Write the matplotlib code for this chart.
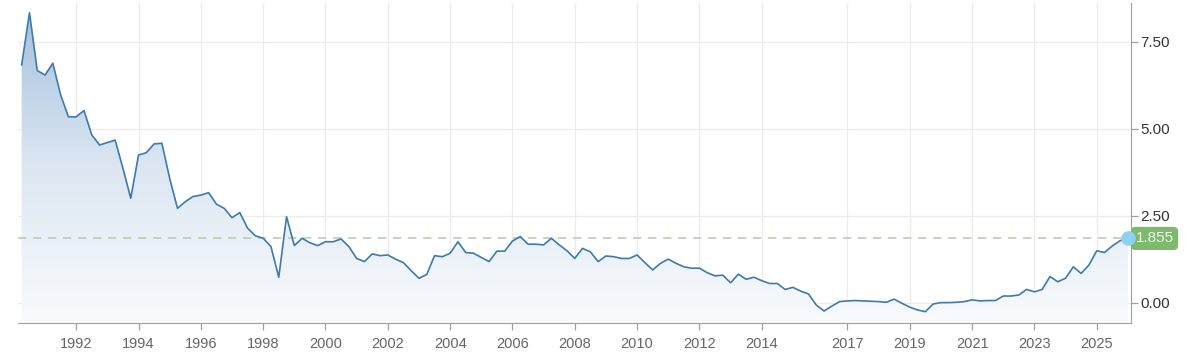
import numpy as np
import matplotlib
matplotlib.use('Agg')
import matplotlib.pyplot as plt
from matplotlib.colors import LinearSegmentedColormap
from matplotlib.patches import Polygon
import matplotlib.transforms as mtransforms

plt.rcParams['font.family'] = ['Liberation Sans', 'DejaVu Sans']

# =============================================================================
#  Data (quarterly points)
# =============================================================================

values = [
    6.84, 8.34, 6.68, 6.55, 6.89, 5.98, 5.35, 5.35, 5.53, 4.83,
    4.54, 4.61, 4.68, 3.87, 3.01, 4.25, 4.32, 4.57, 4.59, 3.58,
    2.72, 2.91, 3.06, 3.10, 3.17, 2.84, 2.72, 2.45, 2.60, 2.15,
    1.93, 1.86, 1.62, 0.74, 2.48, 1.65, 1.86, 1.73, 1.65, 1.76,
    1.76, 1.84, 1.62, 1.28, 1.19, 1.41, 1.36, 1.38, 1.26, 1.16,
    0.93, 0.71, 0.82, 1.36, 1.33, 1.43, 1.76, 1.45, 1.43, 1.31,
    1.19, 1.49, 1.49, 1.78, 1.91, 1.69, 1.69, 1.67, 1.86, 1.67,
    1.50, 1.28, 1.57, 1.47, 1.19, 1.35, 1.33, 1.28, 1.28, 1.38,
    1.16, 0.95, 1.14, 1.26, 1.14, 1.04, 1.00, 1.00, 0.87, 0.78,
    0.80, 0.58, 0.83, 0.68, 0.74, 0.64, 0.56, 0.56, 0.39, 0.45,
    0.34, 0.26, -0.06, -0.23, -0.09, 0.04, 0.06, 0.07, 0.06, 0.05,
    0.04, 0.02, 0.11, -0.01, -0.12, -0.20, -0.25, -0.03, 0.01, 0.01,
    0.02, 0.04, 0.09, 0.06, 0.07, 0.07, 0.20, 0.20, 0.23, 0.39,
    0.32, 0.39, 0.76, 0.61, 0.71, 1.04, 0.85, 1.09, 1.50, 1.45,
    1.64, 1.79, 1.855,
]

# category positions of the year labels
tick_pos = [7, 15, 23, 31, 39, 47, 55, 63, 71, 79, 87, 95,
            106, 114, 122, 130, 138]
tick_labels = ['1992', '1994', '1996', '1998', '2000', '2002', '2004', '2006',
               '2008', '2010', '2012', '2014', '2017', '2019', '2021', '2023',
               '2025']

y_ticks = [0.0, 2.5, 5.0, 7.5]
last_value = values[-1]

# =============================================================================
#  Plot
# =============================================================================

x = np.arange(len(values))
y = np.array(values)

fig = plt.figure(figsize=(12, 3.58), dpi=100)
ax = fig.add_axes([17.7 / 1200, 35 / 358, (1131 - 17.7) / 1200, 320 / 358])

xmin, xmax = -0.51, 142.4
ymin, ymax = -0.575, 8.62
ax.set_xlim(xmin, xmax)
ax.set_ylim(ymin, ymax)

# gradient area under the line
cmap = LinearSegmentedColormap.from_list('area', ['#f9fbfd', '#dce7f2', '#a6c1de'])
grad = np.linspace(0, 1, 256).reshape(-1, 1)
img = ax.imshow(grad, extent=[xmin, xmax, ymin, y.max()], origin='lower',
                aspect='auto', cmap=cmap, zorder=1)
poly = Polygon(np.column_stack([np.r_[x, x[-1], x[0]], np.r_[y, ymin, ymin]]),
               closed=True, facecolor='none', edgecolor='none')
ax.add_patch(poly)
img.set_clip_path(poly)

ax.plot(x, y, color='#3d7ab0', lw=1.2, zorder=3)

# grid
ax.set_xticks(tick_pos)
ax.set_xticklabels(tick_labels)
ax.set_yticks(y_ticks)
ax.set_yticklabels([f'{v:.2f}' for v in y_ticks])
ax.grid(True, color='#ececec', lw=0.9, zorder=0)
ax.set_axisbelow(True)

ax.yaxis.tick_right()
for s in ['top', 'left']:
    ax.spines[s].set_visible(False)
ax.spines['right'].set_color('#a0a0a0')
ax.spines['bottom'].set_color('#a0a0a0')
ax.tick_params(axis='x', colors='#a0a0a0', labelcolor='#666666', labelsize=10.5,
               length=5, width=0.9, pad=5)
ax.tick_params(axis='y', colors='#a0a0a0', labelcolor='#333333', labelsize=11,
               length=5, width=0.9, pad=1.5)

# last value marker and label
ax.axhline(last_value, color='#b9cfae', lw=1.2, ls=(0, (5, 4)), zorder=2)
ax.plot(x[-1], last_value, 'o', ms=9.5, color='#8ed2f3', zorder=6, clip_on=False)
trans = mtransforms.blended_transform_factory(ax.transAxes, ax.transData)
ax.text(1.004, last_value, f'{last_value:.3f}', transform=trans, ha='left',
        va='center', fontsize=11, color='#f2fbee', zorder=5,
        bbox=dict(boxstyle='round,pad=0.3,rounding_size=0.3',
                  fc='#7dba6b', ec='none'))

fig.savefig('out.png', dpi=100)
